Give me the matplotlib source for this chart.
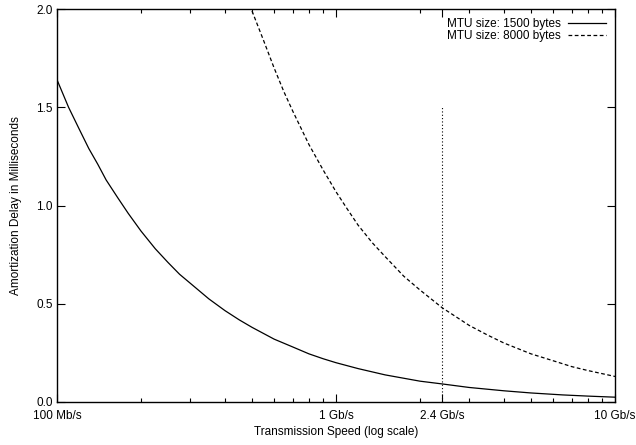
import matplotlib
matplotlib.use("Agg")
import matplotlib.pyplot as plt
from matplotlib.ticker import FixedLocator, NullFormatter

plt.rcParams['font.family'] = ['Liberation Sans', 'DejaVu Sans']

# speeds in Mb/s, delays in milliseconds
speed_1500 = [100, 110, 120, 130, 140, 150, 165, 180, 200, 225, 250, 275, 300,
              350, 400, 450, 500, 600, 700, 800, 900, 1000, 1200, 1500, 2000,
              2400, 3000, 4000, 5000, 6500, 8000, 10000]
delay_1500 = [1.64, 1.50, 1.39, 1.29, 1.21, 1.13, 1.04, 0.96, 0.87, 0.78, 0.71,
              0.65, 0.605, 0.525, 0.465, 0.418, 0.38, 0.32, 0.28, 0.245, 0.22,
              0.20, 0.17, 0.138, 0.106, 0.092, 0.074, 0.057, 0.046, 0.036,
              0.030, 0.0245]

speed_8000 = [450, 500, 550, 600, 650, 700, 800, 900, 1000, 1100, 1200, 1350,
              1500, 1750, 2000, 2400, 3000, 3500, 4000, 5000, 6000, 7000, 8000,
              10000]
delay_8000 = [2.21, 1.99, 1.84, 1.70, 1.58, 1.48, 1.31, 1.18, 1.07, 0.98, 0.90,
              0.81, 0.74, 0.64, 0.57, 0.48, 0.39, 0.34, 0.30, 0.245, 0.21, 0.18,
              0.16, 0.13]

marker_speed = 2400
marker_top = 1.5

xtick_vals = [100, 1000, 2400, 10000]
xtick_labels = ["100 Mb/s", "1 Gb/s", "2.4 Gb/s", "10 Gb/s"]
ytick_vals = [0.0, 0.5, 1.0, 1.5, 2.0]

fig = plt.figure(figsize=(6.36, 4.45), dpi=100)
ax = fig.add_axes([57 / 636, 1 - 402 / 445, (615 - 57) / 636, (402 - 9) / 445])

ax.plot(speed_1500, delay_1500, color='black', lw=0.9, label='MTU size: 1500 bytes')
ax.plot(speed_8000, delay_8000, color='black', lw=0.9, dashes=(3, 2),
        label='MTU size: 8000 bytes')
ax.plot([marker_speed, marker_speed], [0, marker_top], color='black', lw=0.8,
        dashes=(1, 2))

ax.set_xscale('log')
ax.set_xlim(100, 10000)
ax.set_ylim(0, 2.0)

ax.xaxis.set_major_locator(FixedLocator(xtick_vals))
ax.set_xticklabels(xtick_labels)
minor = [m * d for d in (100, 1000) for m in range(2, 10)]
ax.xaxis.set_minor_locator(FixedLocator(minor))
ax.xaxis.set_minor_formatter(NullFormatter())
ax.set_yticks(ytick_vals)
ax.set_yticklabels(["%.1f" % v for v in ytick_vals])

ax.tick_params(which='both', direction='in', top=True, right=True,
               labelsize=8.5)
ax.tick_params(axis='x', which='major', pad=6)
ax.tick_params(axis='y', which='major', pad=3)
ax.tick_params(which='major', length=6, width=0.8)
ax.tick_params(which='minor', length=3, width=0.8)
for s in ax.spines.values():
    s.set_linewidth(1.0)

ax.set_xlabel('Transmission Speed (log scale)', fontsize=8.5, labelpad=3)
ax.set_ylabel('Amortization Delay in Milliseconds', fontsize=8.5, labelpad=10)

ax.legend(loc='upper right', frameon=False, markerfirst=False, fontsize=8.5,
          handlelength=3.2, handletextpad=0.6, labelspacing=-0.05,
          borderaxespad=0.7, borderpad=0.1)

fig.savefig('out.png', dpi=100)
